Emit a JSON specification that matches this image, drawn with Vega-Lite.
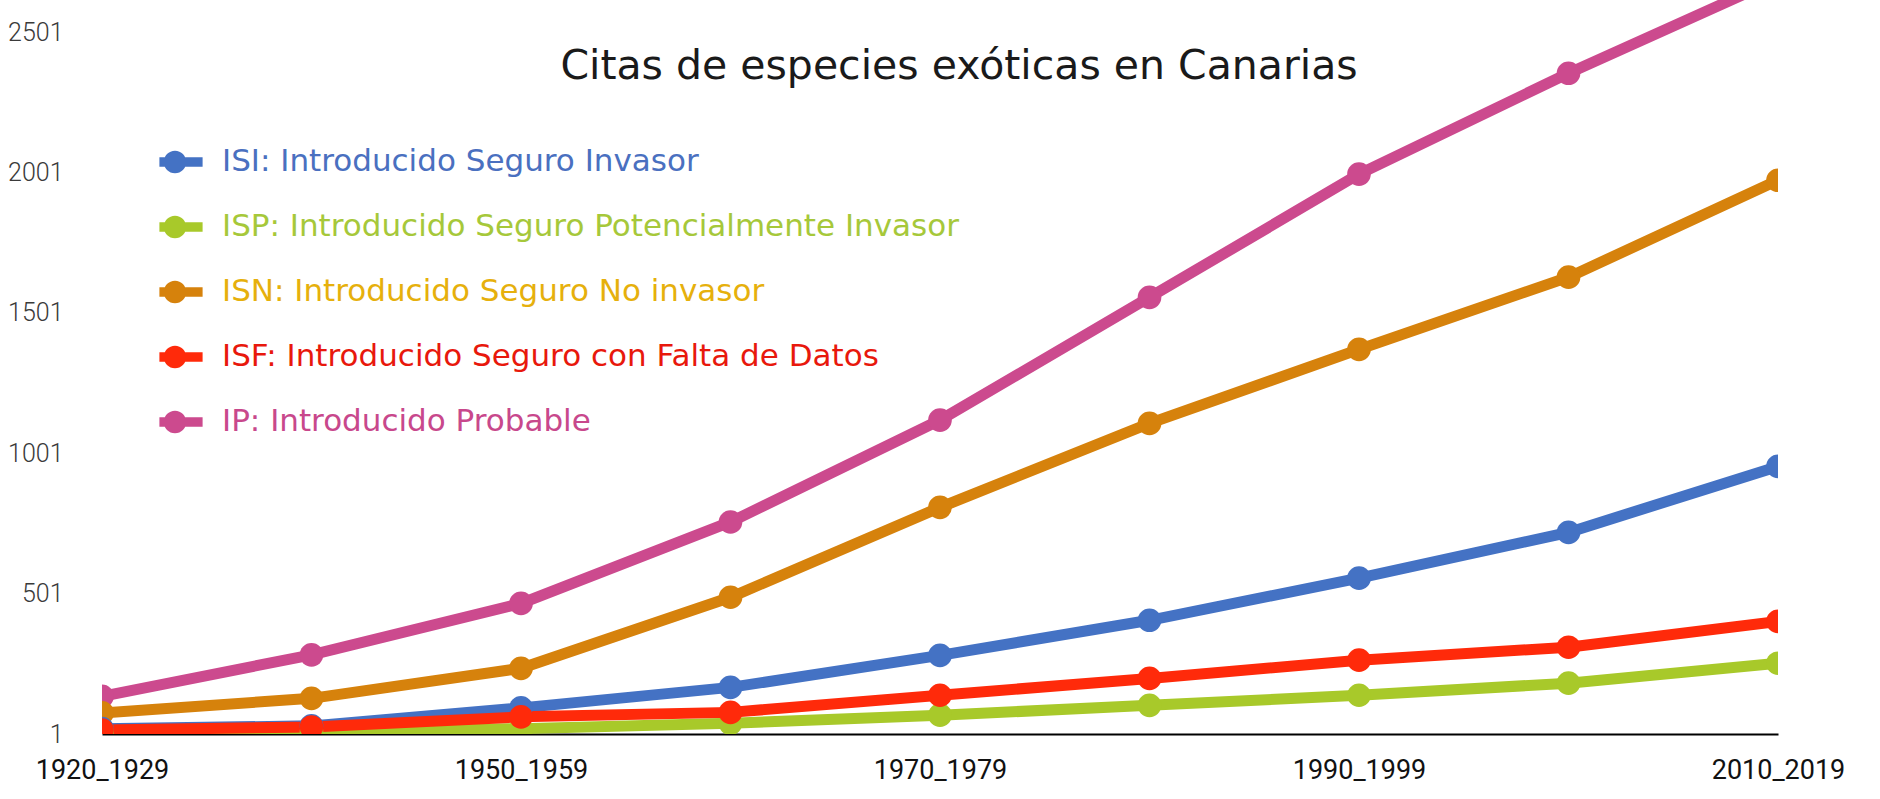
{
  "$schema": "https://vega.github.io/schema/vega-lite/v6.json",
  "width": 1676,
  "height": 734,
  "autosize": "none",
  "padding": {"left": 102, "top": 0, "right": 102, "bottom": 65},
  "background": "white",
  "config": {"view": {"stroke": null}},
  "title": {
    "text": "Citas de especies exóticas en Canarias",
    "anchor": "middle",
    "orient": "top",
    "offset": -88,
    "dx": 19,
    "font": "DejaVu Sans",
    "fontSize": 41,
    "fontWeight": "normal",
    "color": "#1a1a1a"
  },
  "data": {
    "values": [
      {"periodo": "1920_1929", "categoria": "IP: Introducido Probable", "citas": 135},
      {"periodo": "1930_1949", "categoria": "IP: Introducido Probable", "citas": 283},
      {"periodo": "1950_1959", "categoria": "IP: Introducido Probable", "citas": 466},
      {"periodo": "1960_1969", "categoria": "IP: Introducido Probable", "citas": 756},
      {"periodo": "1970_1979", "categoria": "IP: Introducido Probable", "citas": 1119},
      {"periodo": "1980_1989", "categoria": "IP: Introducido Probable", "citas": 1556},
      {"periodo": "1990_1999", "categoria": "IP: Introducido Probable", "citas": 1995},
      {"periodo": "2000_2009", "categoria": "IP: Introducido Probable", "citas": 2354},
      {"periodo": "2010_2019", "categoria": "IP: Introducido Probable", "citas": 2690},
      {"periodo": "1920_1929", "categoria": "ISN: Introducido Seguro No invasor", "citas": 76},
      {"periodo": "1930_1949", "categoria": "ISN: Introducido Seguro No invasor", "citas": 128},
      {"periodo": "1950_1959", "categoria": "ISN: Introducido Seguro No invasor", "citas": 235},
      {"periodo": "1960_1969", "categoria": "ISN: Introducido Seguro No invasor", "citas": 488},
      {"periodo": "1970_1979", "categoria": "ISN: Introducido Seguro No invasor", "citas": 808},
      {"periodo": "1980_1989", "categoria": "ISN: Introducido Seguro No invasor", "citas": 1107},
      {"periodo": "1990_1999", "categoria": "ISN: Introducido Seguro No invasor", "citas": 1371},
      {"periodo": "2000_2009", "categoria": "ISN: Introducido Seguro No invasor", "citas": 1628},
      {"periodo": "2010_2019", "categoria": "ISN: Introducido Seguro No invasor", "citas": 1973},
      {"periodo": "1920_1929", "categoria": "ISI: Introducido Seguro Invasor", "citas": 20},
      {"periodo": "1930_1949", "categoria": "ISI: Introducido Seguro Invasor", "citas": 30},
      {"periodo": "1950_1959", "categoria": "ISI: Introducido Seguro Invasor", "citas": 94},
      {"periodo": "1960_1969", "categoria": "ISI: Introducido Seguro Invasor", "citas": 167},
      {"periodo": "1970_1979", "categoria": "ISI: Introducido Seguro Invasor", "citas": 281},
      {"periodo": "1980_1989", "categoria": "ISI: Introducido Seguro Invasor", "citas": 406},
      {"periodo": "1990_1999", "categoria": "ISI: Introducido Seguro Invasor", "citas": 556},
      {"periodo": "2000_2009", "categoria": "ISI: Introducido Seguro Invasor", "citas": 719},
      {"periodo": "2010_2019", "categoria": "ISI: Introducido Seguro Invasor", "citas": 954},
      {"periodo": "1920_1929", "categoria": "ISP: Introducido Seguro Potencialmente Invasor", "citas": 6},
      {"periodo": "1930_1949", "categoria": "ISP: Introducido Seguro Potencialmente Invasor", "citas": 8},
      {"periodo": "1950_1959", "categoria": "ISP: Introducido Seguro Potencialmente Invasor", "citas": 20},
      {"periodo": "1960_1969", "categoria": "ISP: Introducido Seguro Potencialmente Invasor", "citas": 39},
      {"periodo": "1970_1979", "categoria": "ISP: Introducido Seguro Potencialmente Invasor", "citas": 68},
      {"periodo": "1980_1989", "categoria": "ISP: Introducido Seguro Potencialmente Invasor", "citas": 103},
      {"periodo": "1990_1999", "categoria": "ISP: Introducido Seguro Potencialmente Invasor", "citas": 139},
      {"periodo": "2000_2009", "categoria": "ISP: Introducido Seguro Potencialmente Invasor", "citas": 182},
      {"periodo": "2010_2019", "categoria": "ISP: Introducido Seguro Potencialmente Invasor", "citas": 253},
      {"periodo": "1920_1929", "categoria": "ISF: Introducido Seguro con Falta de Datos", "citas": 15},
      {"periodo": "1930_1949", "categoria": "ISF: Introducido Seguro con Falta de Datos", "citas": 26},
      {"periodo": "1950_1959", "categoria": "ISF: Introducido Seguro con Falta de Datos", "citas": 62},
      {"periodo": "1960_1969", "categoria": "ISF: Introducido Seguro con Falta de Datos", "citas": 78},
      {"periodo": "1970_1979", "categoria": "ISF: Introducido Seguro con Falta de Datos", "citas": 139},
      {"periodo": "1980_1989", "categoria": "ISF: Introducido Seguro con Falta de Datos", "citas": 199},
      {"periodo": "1990_1999", "categoria": "ISF: Introducido Seguro con Falta de Datos", "citas": 264},
      {"periodo": "2000_2009", "categoria": "ISF: Introducido Seguro con Falta de Datos", "citas": 310},
      {"periodo": "2010_2019", "categoria": "ISF: Introducido Seguro con Falta de Datos", "citas": 402}
    ]
  },
  "encoding": {
    "x": {
      "field": "periodo",
      "type": "ordinal",
      "sort": null,
      "scale": {"type": "point", "padding": 0},
      "axis": {
        "title": null,
        "values": ["1920_1929", "1950_1959", "1970_1979", "1990_1999", "2010_2019"],
        "labelAngle": 0,
        "labelFont": "Roboto",
        "labelFontSize": 27,
        "labelColor": "#111111",
        "labelPadding": 23,
        "ticks": false,
        "domainColor": "#000000",
        "domainWidth": 2,
        "grid": false
      }
    },
    "y": {
      "field": "citas",
      "type": "quantitative",
      "scale": {"domain": [1, 2615], "nice": false, "zero": false},
      "axis": {
        "title": null,
        "values": [1, 501, 1001, 1501, 2001, 2501],
        "format": "d",
        "labelFont": "Roboto",
        "labelFontWeight": 300,
        "labelFontSize": 25,
        "labelColor": "#3a3a3a",
        "labelPadding": 39,
        "ticks": false,
        "domain": false,
        "grid": false
      }
    },
    "color": {
      "field": "categoria",
      "type": "nominal",
      "scale": {
        "domain": [
          "ISI: Introducido Seguro Invasor",
          "ISP: Introducido Seguro Potencialmente Invasor",
          "ISN: Introducido Seguro No invasor",
          "ISF: Introducido Seguro con Falta de Datos",
          "IP: Introducido Probable"
        ],
        "range": ["#4472c4", "#a8c92a", "#d6820c", "#ff2a0a", "#cc4a8e"]
      },
      "legend": {
        "title": null,
        "orient": "none",
        "legendX": 55,
        "legendY": 138,
        "symbolType": "M -0.72 0 A 0.47 0.47 0 1 1 0.22 0 A 0.47 0.47 0 1 1 -0.72 0 Z M -0.9 -0.2 L 0.9 -0.2 L 0.9 0.2 L -0.9 0.2 Z",
        "symbolSize": 2304,
        "symbolStrokeWidth": 0,
        "symbolOpacity": 1,
        "labelFont": "DejaVu Sans",
        "labelFontSize": 31,
        "labelOffset": 17,
        "labelLimit": 1000,
        "rowPadding": 26,
        "encode": {
          "symbols": {"update": {"fill": {"signal": "scale('color', datum.value)"}, "stroke": {"value": "transparent"}}},
          "labels": {"update": {"fill": {"signal": "indexof(datum.value, 'ISN:') == 0 ? '#e6b00c' : indexof(datum.value, 'ISI:') == 0 ? '#4a70c0' : indexof(datum.value, 'ISP:') == 0 ? '#a6c83a' : indexof(datum.value, 'ISF:') == 0 ? '#e8180c' : '#c8488c'"}}}
        }
      }
    }
  },
  "layer": [
    {"mark": {"type": "line", "strokeWidth": 11, "clip": true}},
    {"mark": {"type": "point", "filled": true, "shape": "circle", "size": 560, "opacity": 1, "clip": true}}
  ]
}
